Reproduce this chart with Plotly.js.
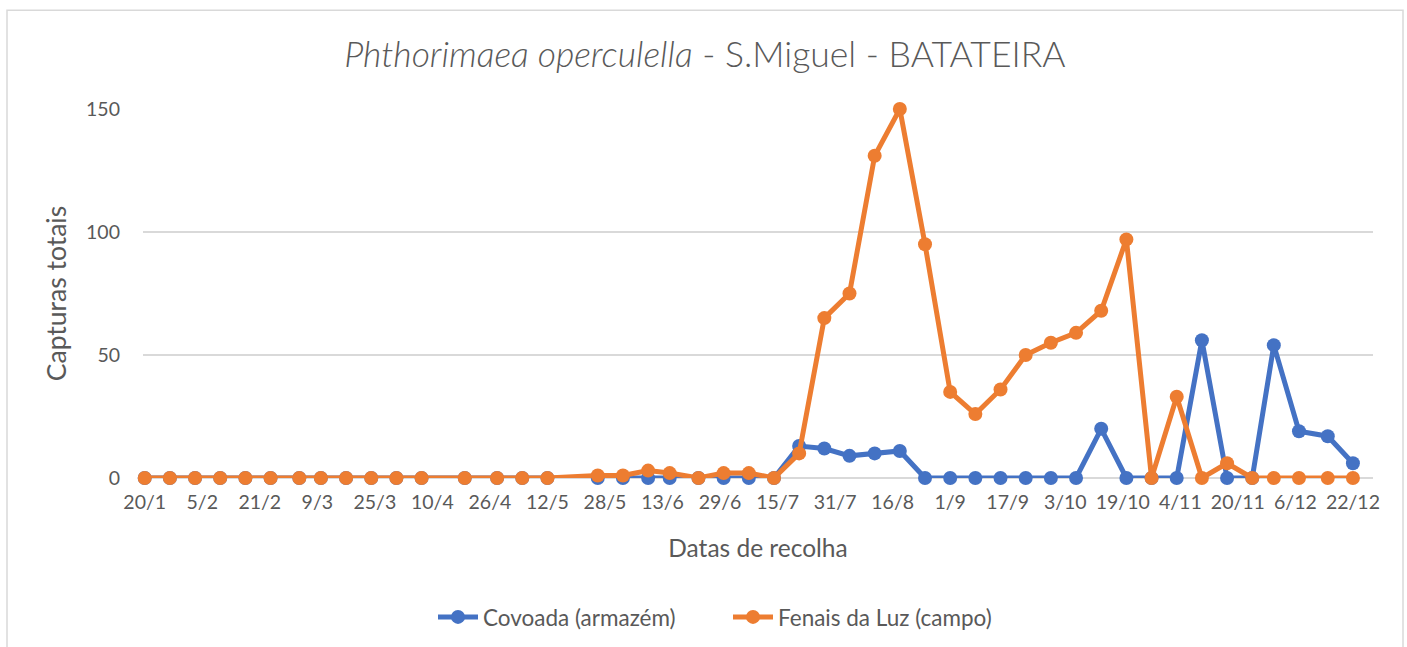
<!DOCTYPE html>
<html>
<head>
<meta charset="utf-8">
<script src="https://cdn.plot.ly/plotly-3.0.1.min.js"></script>
<style>
html,body{margin:0;padding:0;background:#fff;}
#chart{width:1407px;height:647px;}
</style>
</head>
<body>
<div id="chart"></div>
<script>
// Collection dates (day/month); year chosen as a non-leap year
const dates = [
  "2019-01-20","2019-01-27","2019-02-03","2019-02-10","2019-02-17","2019-02-24",
  "2019-03-04","2019-03-10","2019-03-17","2019-03-24","2019-03-31","2019-04-07",
  "2019-04-19","2019-04-28","2019-05-05","2019-05-12","2019-05-26","2019-06-02",
  "2019-06-09","2019-06-15","2019-06-23","2019-06-30","2019-07-07","2019-07-14",
  "2019-07-21","2019-07-28","2019-08-04","2019-08-11","2019-08-18","2019-08-25",
  "2019-09-01","2019-09-08","2019-09-15","2019-09-22","2019-09-29","2019-10-06",
  "2019-10-13","2019-10-20","2019-10-27","2019-11-03","2019-11-10","2019-11-17",
  "2019-11-24","2019-11-30","2019-12-07","2019-12-15","2019-12-22"
];
const covoada = [
  0,0,0,0,0,0, 0,0,0,0,0,0, 0,0,0,0,0,0,
  0,0,0,0,0,0, 13,12,9,10,11,0, 0,0,0,0,0,0,
  20,0,0,0,56,0, 0,54,19,17,6
];
const fenais = [
  0,0,0,0,0,0, 0,0,0,0,0,0, 0,0,0,0,1,1,
  3,2,0,2,2,0, 10,65,75,131,150,95, 35,26,36,50,55,59,
  68,97,0,33,0,6, 0,0,0,0,0
];
const seriesNames = ["Covoada (armazém)", "Fenais da Luz (campo)"];
const seriesColors = ["#4472C4", "#ED7D31"];
const yTicks = [0, 50, 100, 150];

const FONT = "Lato, 'Open Sans', sans-serif";
const TXT = "#595959";

function trace(y, i) {
  return {
    type: "scatter", mode: "lines+markers",
    x: dates, y: y, name: seriesNames[i],
    line: {color: seriesColors[i], width: 5},
    marker: {color: seriesColors[i], size: 14, line: {width: 0}},
    cliponaxis: false
  };
}

const data = [trace(covoada, 0), trace(fenais, 1)];

const layout = {
  width: 1407, height: 647,
  margin: {l: 143, r: 34, t: 109, b: 169, autoexpand: false},
  paper_bgcolor: "#fff", plot_bgcolor: "#fff",
  font: {family: FONT, color: TXT, size: 19},
  title: {
    text: "<i>Phthorimaea operculella</i> - S.Miguel - BATATEIRA",
    font: {family: FONT, size: 35.5, color: TXT, weight: 300},
    x: 0.501, xref: "container", xanchor: "center",
    y: 1 - 55/647, yref: "container", yanchor: "middle"
  },
  xaxis: {
    type: "date",
    range: ["2019-01-19 12:40", "2019-12-27 14:00"],
    tick0: "2019-01-20", dtick: 16*86400000,
    tickformat: "%-d/%-m", tickangle: 0,
    showgrid: false, zeroline: false, showline: false, ticks: "",
    ticklabelstandoff: 10,
    tickfont: {family: FONT, size: 19.5, color: TXT},
    title: {text: "Datas de recolha", font: {family: FONT, size: 24.5, color: TXT}, standoff: 28}
  },
  yaxis: {
    range: [0, 150],
    tickvals: yTicks,
    showgrid: true, gridcolor: "#d9d9d9", gridwidth: 1.3,
    zeroline: true, zerolinecolor: "#d9d9d9", zerolinewidth: 1.3,
    showline: false, ticks: "",
    ticklabelstandoff: 22,
    tickfont: {family: FONT, size: 19.5, color: TXT},
    title: {text: "Capturas totais", font: {family: FONT, size: 26.5, color: TXT}, standoff: 11}
  },
  showlegend: true,
  legend: {
    orientation: "h", x: (728 - 143) / 1230, xanchor: "center",
    y: (477.7 - 617) / 369, yanchor: "middle",
    font: {family: FONT, size: 22.5, color: TXT},
    itemwidth: 40, traceorder: "normal",
    entrywidth: 240, entrywidthmode: "pixels"
  },
  shapes: [{
    type: "rect", xref: "paper", yref: "paper",
    x0: (7 - 143) / 1230, x1: (1403 - 143) / 1230,
    y0: -0.6, y1: (477.7 - 10) / 369,
    line: {color: "#d9d9d9", width: 1.5}, fillcolor: "rgba(0,0,0,0)", layer: "below"
  }]
};

Plotly.newPlot("chart", data, layout, {displayModeBar: false, staticPlot: true});
</script>
</body>
</html>
